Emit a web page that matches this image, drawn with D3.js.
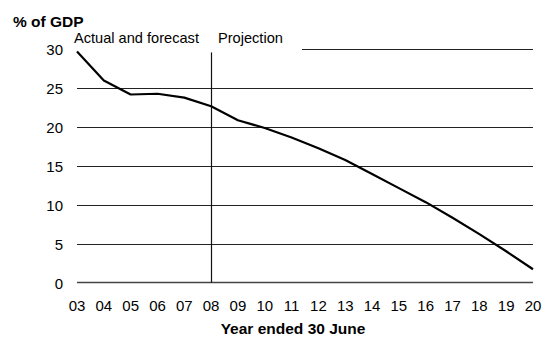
<!DOCTYPE html>
<html>
<head>
<meta charset="utf-8">
<script src="https://cdn.jsdelivr.net/npm/d3@7"></script>
<style>
  body { margin: 0; background: #fff; }
  svg { display: block; font-family: "Liberation Sans", Arial, sans-serif; }
</style>
</head>
<body>
<div id="chart"></div>
<script>
// data
const years = ["03","04","05","06","07","08","09","10","11","12","13","14","15","16","17","18","19","20"];
const debt = [29.6, 25.9, 24.1, 24.2, 23.7, 22.6, 20.8, 19.8, 18.6, 17.2, 15.7, 13.9, 12.1, 10.3, 8.3, 6.2, 4.0, 1.7];
const yTicks = [0, 5, 10, 15, 20, 25, 30];
const splitYear = "08";

const width = 544, height = 341;
const margin = { top: 48.5, right: 11, bottom: 58.5, left: 77 };

const svg = d3.select("#chart").append("svg")
    .attr("width", width)
    .attr("height", height);

const x = d3.scalePoint()
    .domain(years)
    .range([margin.left, width - margin.right]);

const y = d3.scaleLinear()
    .domain([0, 30])
    .range([height - margin.bottom, margin.top]);

// grid lines (top one broken to leave room for the labels)
svg.append("g")
    .selectAll("line")
    .data(yTicks.filter(d => d > 0))
    .join("line")
    .attr("x1", d => d === 30 ? 302 : x(years[0]))
    .attr("x2", x(years[years.length - 1]))
    .attr("y1", d => Math.round(y(d)) + 0.5)
    .attr("y2", d => Math.round(y(d)) + 0.5)
    .attr("stroke", "#222")
    .attr("stroke-width", 1);

// y labels
svg.append("g")
    .selectAll("text")
    .data(yTicks)
    .join("text")
    .attr("x", 63)
    .attr("y", d => y(d) + 6)
    .attr("text-anchor", "end")
    .style("font-size", "15px")
    .text(d => d);

// x axis line
svg.append("line")
    .attr("x1", x(years[0]))
    .attr("x2", x(years[years.length - 1]))
    .attr("y1", y(0))
    .attr("y2", y(0))
    .attr("stroke", "#444")
    .attr("stroke-width", 1.6);

// x labels
svg.append("g")
    .selectAll("text")
    .data(years)
    .join("text")
    .attr("x", d => x(d))
    .attr("y", y(0) + 28.5)
    .attr("text-anchor", "middle")
    .style("font-size", "15px")
    .text(d => d);

// divider between actual and projection
svg.append("line")
    .attr("x1", Math.round(x(splitYear)) + 0.5)
    .attr("x2", Math.round(x(splitYear)) + 0.5)
    .attr("y1", y(29.5))
    .attr("y2", y(0))
    .attr("stroke", "#111")
    .attr("stroke-width", 1.2);

// the series
const line = d3.line()
    .x((d, i) => x(years[i]))
    .y(d => y(d));

svg.append("path")
    .datum(debt)
    .attr("d", line)
    .attr("fill", "none")
    .attr("stroke", "#000")
    .attr("stroke-width", 2.2)
    .attr("stroke-linejoin", "round");

// labels
svg.append("text")
    .attr("x", 13)
    .attr("y", 26.5)
    .style("font-size", "15.5px")
    .style("font-weight", "bold")
    .text("% of GDP");

svg.append("text")
    .attr("x", 74)
    .attr("y", 43)
    .style("font-size", "14.6px")
    .text("Actual and forecast");

svg.append("text")
    .attr("x", 218)
    .attr("y", 43)
    .style("font-size", "14.6px")
    .text("Projection");

svg.append("text")
    .attr("x", 293)
    .attr("y", 334)
    .attr("text-anchor", "middle")
    .style("font-size", "15.5px")
    .style("font-weight", "bold")
    .text("Year ended 30 June");
</script>
</body>
</html>
